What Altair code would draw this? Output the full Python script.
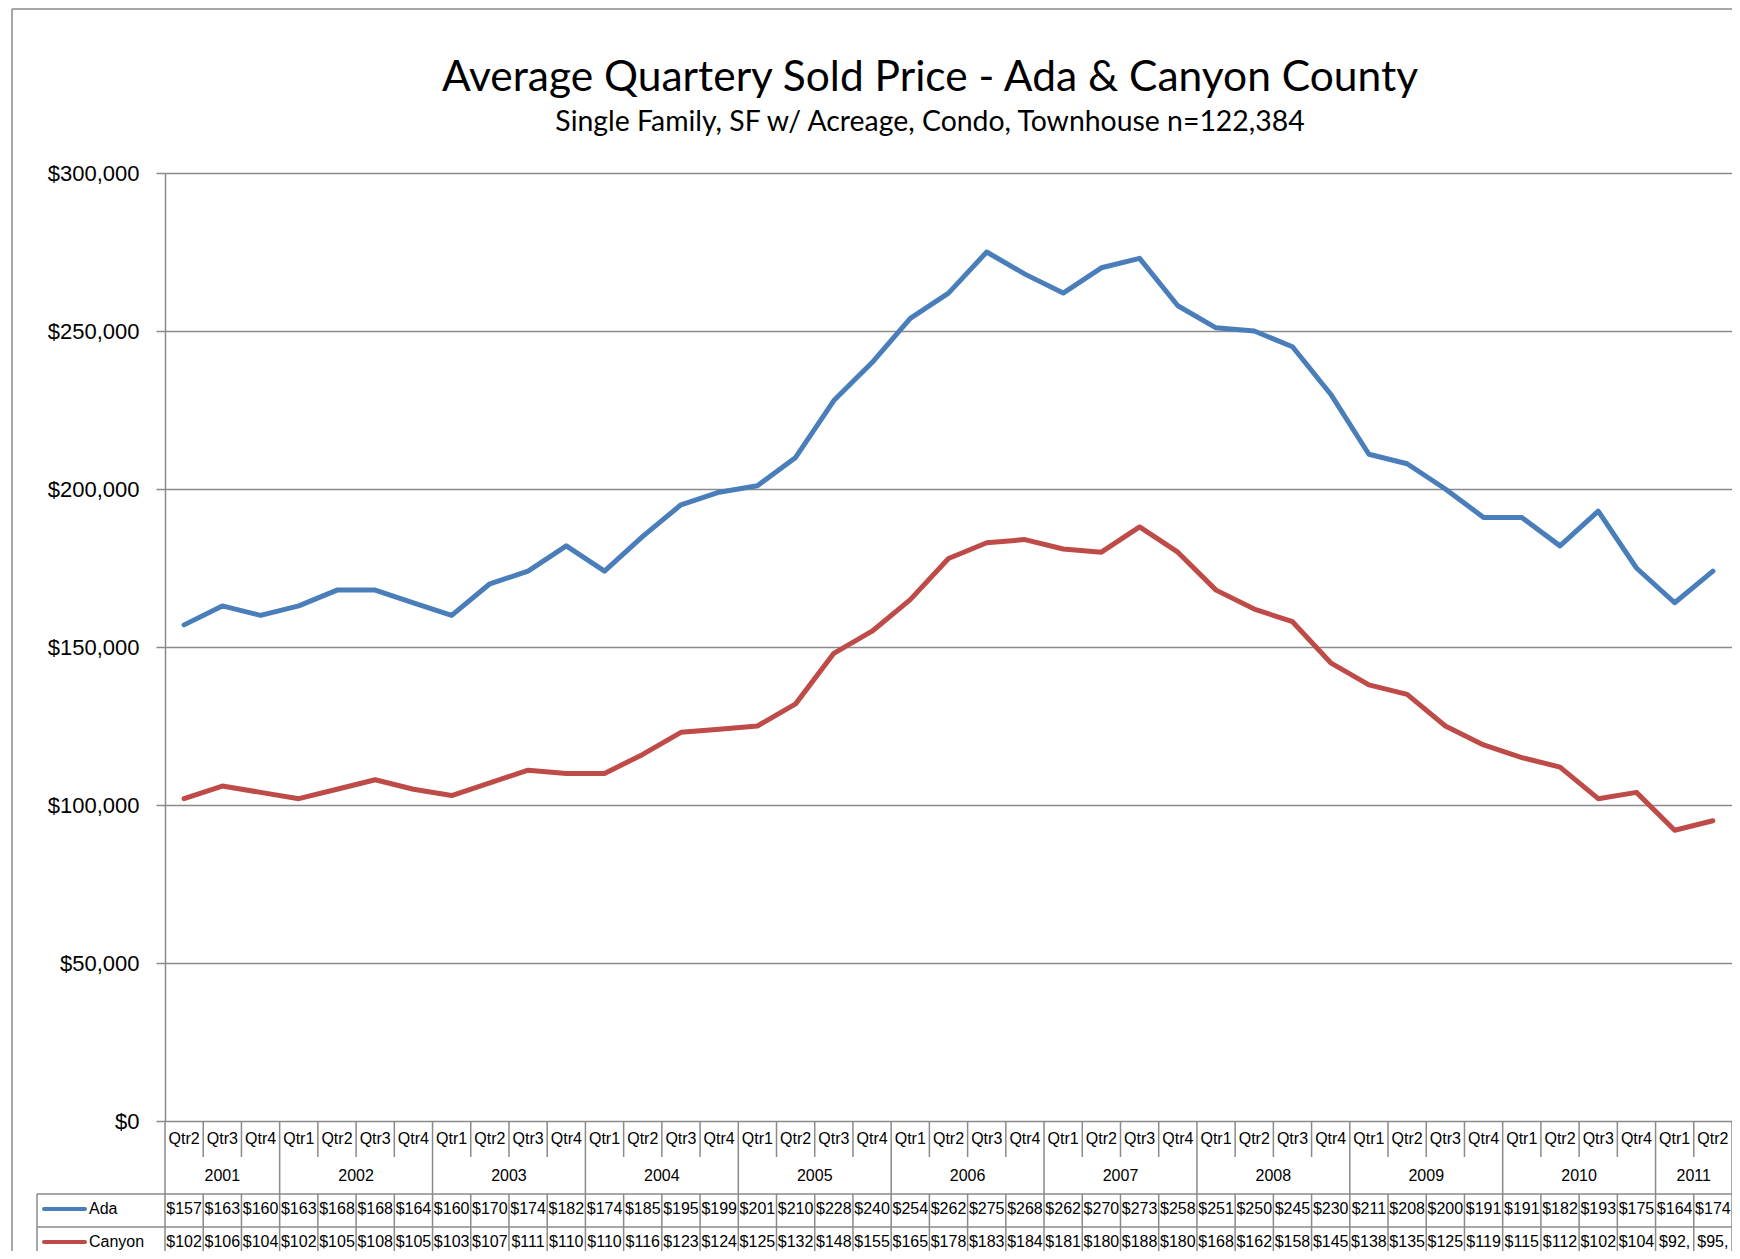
import altair as alt
import pandas as pd

# ---------------- data (values in $ thousands, as shown in the data table) -------------
year_labels = ["2001", "2002", "2003", "2004", "2005", "2006", "2007", "2008", "2009", "2010", "2011"]
quarters_in_year = [
    ["Qtr2", "Qtr3", "Qtr4"],
    ["Qtr1", "Qtr2", "Qtr3", "Qtr4"],
    ["Qtr1", "Qtr2", "Qtr3", "Qtr4"],
    ["Qtr1", "Qtr2", "Qtr3", "Qtr4"],
    ["Qtr1", "Qtr2", "Qtr3", "Qtr4"],
    ["Qtr1", "Qtr2", "Qtr3", "Qtr4"],
    ["Qtr1", "Qtr2", "Qtr3", "Qtr4"],
    ["Qtr1", "Qtr2", "Qtr3", "Qtr4"],
    ["Qtr1", "Qtr2", "Qtr3", "Qtr4"],
    ["Qtr1", "Qtr2", "Qtr3", "Qtr4"],
    ["Qtr1", "Qtr2"],
]
ada = [157, 163, 160, 163, 168, 168, 164, 160, 170, 174, 182, 174, 185, 195, 199, 201,
       210, 228, 240, 254, 262, 275, 268, 262, 270, 273, 258, 251, 250, 245, 230, 211,
       208, 200, 191, 191, 182, 193, 175, 164, 174]
canyon = [102, 106, 104, 102, 105, 108, 105, 103, 107, 111, 110, 110, 116, 123, 124, 125,
          132, 148, 155, 165, 178, 183, 184, 181, 180, 188, 180, 168, 162, 158, 145, 138,
          135, 125, 119, 115, 112, 102, 104, 92, 95]
series_names = ["Ada", "Canyon"]
series_colors = ["#4A7EBB", "#BE4B48"]
y_ticks = [0, 50000, 100000, 150000, 200000, 250000, 300000]
title_text = "Average Quartery Sold Price - Ada & Canyon County"
subtitle_text = "Single Family, SF w/ Acreage, Condo, Townhouse n=122,384"

# ---------------- tables built from the lists ----------------
quarters, years = [], []
for y, qs in zip(year_labels, quarters_in_year):
    for q in qs:
        quarters.append(q)
        years.append(y)
n = len(quarters)

df = pd.DataFrame({"idx": list(range(n)), "quarter": quarters, "year": years,
                   "Ada": ada, "Canyon": canyon})
long = df.melt(id_vars=["idx", "quarter", "year"], value_vars=series_names,
               var_name="series", value_name="k")
long["price"] = long["k"] * 1000
long["label"] = long["k"].map(lambda v: "$%d" % v + ("," if v < 100 else ""))

edges = pd.DataFrame({"edge": [i - 0.5 for i in range(n + 1)]})
first_idx = df.groupby("year", sort=False)["idx"].min().tolist()
year_edges = pd.DataFrame({"edge": [i - 0.5 for i in first_idx] + [n - 0.5]})
year_centers = df.groupby("year", sort=False)["idx"].mean().reset_index()
one = pd.DataFrame({"k": [0]})

# ---------------- layout ----------------
W, H = 1567, 948
GRAY = "#8A8A8A"
TFONT = "Liberation Sans"
xs = alt.Scale(domain=[-0.5, n - 0.5], nice=False, zero=False)
X = lambda f: alt.X(f, type="quantitative", scale=xs, axis=None)

row_q = H + 18          # quarter labels
row_y = H + 55          # year labels
line_a = H + 73         # top of Ada row
line_c = H + 106        # top of Canyon row
row_vals = {"Ada": H + 88, "Canyon": H + 121}
bottom = H + 130

lines = alt.Chart(long).mark_line(strokeWidth=5, strokeCap="round", strokeJoin="round").encode(
    x=X("idx"),
    y=alt.Y("price:Q", scale=alt.Scale(domain=[0, 300000], nice=False),
            axis=alt.Axis(values=y_ticks, format="$,.0f", title=None,
                          labelFont=TFONT, labelFontSize=22, labelColor="black",
                          labelPadding=17, tickSize=9, tickColor=GRAY, tickWidth=1.5,
                          domainColor=GRAY, domainWidth=1.5,
                          gridColor=GRAY, gridWidth=1.3)),
    color=alt.Color("series:N", scale=alt.Scale(domain=series_names, range=series_colors),
                    legend=None),
)

q_edges = alt.Chart(edges).mark_rule(color=GRAY, strokeWidth=1.5).encode(
    x=X("edge"), y=alt.value(H), y2=alt.value(H + 36))
d_edges = alt.Chart(edges).mark_rule(color=GRAY, strokeWidth=1.5).encode(
    x=X("edge"), y=alt.value(line_a), y2=alt.value(bottom))
y_edges = alt.Chart(year_edges).mark_rule(color=GRAY, strokeWidth=1.5).encode(
    x=X("edge"), y=alt.value(H + 36), y2=alt.value(line_a))

h_a = alt.Chart(one).mark_rule(color=GRAY, strokeWidth=1.5).encode(
    x=alt.value(-128), x2=alt.value(W), y=alt.value(line_a))
h_c = alt.Chart(one).mark_rule(color=GRAY, strokeWidth=1.5).encode(
    x=alt.value(-128), x2=alt.value(W), y=alt.value(line_c))
v_left = alt.Chart(one).mark_rule(color=GRAY, strokeWidth=1.5).encode(
    x=alt.value(-128), y=alt.value(line_a), y2=alt.value(bottom))

# outer chart-area border
b_left = alt.Chart(one).mark_rule(color=GRAY, strokeWidth=1.5).encode(
    x=alt.value(-153), y=alt.value(-164), y2=alt.value(bottom))
b_top = alt.Chart(one).mark_rule(color=GRAY, strokeWidth=1.5).encode(
    x=alt.value(-153), x2=alt.value(W), y=alt.value(-164))

# titles
t_main = alt.Chart(one).mark_text(font="Lato", fontSize=42.5, color="black",
                                  align="center", baseline="alphabetic").encode(
    x=alt.value(765), y=alt.value(-82), text=alt.value(title_text))
t_sub = alt.Chart(one).mark_text(font="Lato", fontSize=28.4, color="black",
                                 align="center", baseline="alphabetic").encode(
    x=alt.value(765), y=alt.value(-42), text=alt.value(subtitle_text))

q_text = alt.Chart(df).mark_text(font=TFONT, fontSize=16, color="black", baseline="middle").encode(
    x=X("idx"), y=alt.value(row_q), text="quarter:N")
yr_text = alt.Chart(year_centers).mark_text(font=TFONT, fontSize=16, color="black",
                                            baseline="middle").encode(
    x=X("idx"), y=alt.value(row_y), text="year:N")

layers = [lines, q_edges, d_edges, y_edges, h_a, h_c, v_left, b_left, b_top,
          t_main, t_sub, q_text, yr_text]
for name, color in zip(series_names, series_colors):
    sub = long[long["series"] == name]
    layers.append(alt.Chart(sub).mark_text(font=TFONT, fontSize=16, color="black",
                                           baseline="middle").encode(
        x=X("idx"), y=alt.value(row_vals[name]), text="label:N"))
    layers.append(alt.Chart(one).mark_rule(color=color, strokeWidth=4, strokeCap="round").encode(
        x=alt.value(-121), x2=alt.value(-80), y=alt.value(row_vals[name])))
    layers.append(alt.Chart(one).mark_text(font=TFONT, fontSize=16, color="black",
                                           align="left", baseline="middle").encode(
        x=alt.value(-76), y=alt.value(row_vals[name]), text=alt.value(name)))

chart = alt.layer(*layers).properties(
    width=W, height=H,
    autosize=alt.AutoSizeParams(type="none"),
    padding={"left": 157, "top": 165, "right": 0, "bottom": 130},
).configure_view(stroke=None)

chart.save("out.html", embed_options={"renderer": "svg", "actions": False})
